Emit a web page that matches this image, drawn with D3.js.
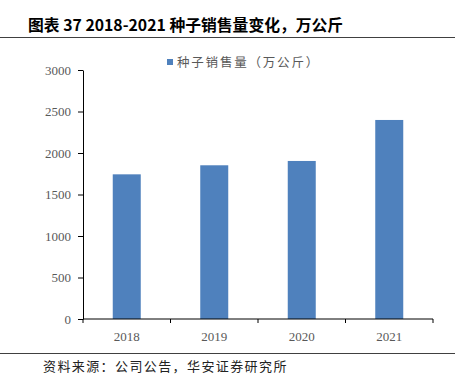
<!DOCTYPE html>
<html>
<head>
<meta charset="utf-8">
<script src="https://cdn.jsdelivr.net/npm/d3@7"></script>
<style>
body{margin:0;background:#fff;}
</style>
</head>
<body>
<div id="chart"></div>
<script>
// data
var years = ["2018","2019","2020","2021"]
var sales = [1743, 1852, 1904, 2398]
var yTicks = [0,500,1000,1500,2000,2500,3000]
var seriesName = "种子销售量（万公斤）"
var title = "图表 37 2018-2021 种子销售量变化，万公斤"
var source = "资料来源：公司公告，华安证券研究所"

var W = 461, H = 383
var margin = {top: 70, right: 28, bottom: 64, left: 83}
var svg = d3.select("#chart").append("svg")
    .attr("width", W).attr("height", H)

// title + rules
svg.append("text").attr("x", 28).attr("y", 31)
    .style("font-family", "'Noto Sans CJK SC', sans-serif")
    .style("font-weight", "bold").style("font-size", "15.8px")
    .attr("fill", "#000").text(title)
svg.append("line").attr("x1", 0).attr("x2", 455).attr("y1", 37.5).attr("y2", 37.5)
    .attr("stroke", "#404040").attr("stroke-width", 1)
svg.append("line").attr("x1", 0).attr("x2", 455).attr("y1", 353.5).attr("y2", 353.5)
    .attr("stroke", "#404040").attr("stroke-width", 1)
svg.append("text").attr("x", 43).attr("y", 371)
    .style("font-family", "'Noto Sans CJK SC', sans-serif")
    .style("font-size", "13px").style("letter-spacing", "1.4px")
    .attr("fill", "#222").text(source)

var x = d3.scaleBand().domain(years).range([margin.left, W - margin.right]).paddingInner(0.68).paddingOuter(0.34)
var y = d3.scaleLinear().domain([0, 3000]).range([H - margin.bottom, margin.top])

var g = svg.append("g")

g.selectAll("rect.bar").data(sales).enter().append("rect")
    .attr("class", "bar")
    .attr("x", function(d, i){ return x(years[i]) })
    .attr("width", x.bandwidth())
    .attr("y", function(d){ return y(d) })
    .attr("height", function(d){ return y(0) - y(d) })
    .attr("fill", "#4f81bd")

// y axis
var yAxis = g.append("g").attr("transform", "translate(" + margin.left + ",0)")
    .call(d3.axisLeft(y).tickValues(yTicks).tickFormat(d3.format("d")).tickSize(5).tickPadding(7).tickSizeOuter(0))
yAxis.select(".domain").attr("stroke", "#000")
yAxis.selectAll(".tick line").attr("stroke", "#000")
yAxis.selectAll("text").style("font-family", "'Liberation Serif', serif")
    .style("font-size", "13px").attr("fill", "#595959")

// x axis, ticks on band edges
var xAxis = g.append("g").attr("transform", "translate(0," + y(0) + ")")
xAxis.append("line").attr("x1", margin.left).attr("x2", W - margin.right)
    .attr("stroke", "#000")
var edges = d3.range(years.length + 1).map(function(i){ return margin.left + i * x.step() })
xAxis.selectAll("line.edge").data(edges).enter().append("line")
    .attr("class", "edge")
    .attr("x1", function(d){ return d }).attr("x2", function(d){ return d })
    .attr("y1", 0).attr("y2", 4).attr("stroke", "#000")
xAxis.selectAll("text").data(years).enter().append("text")
    .attr("x", function(d){ return x(d) + x.bandwidth() / 2 })
    .attr("y", 22).attr("text-anchor", "middle")
    .style("font-family", "'Liberation Serif', serif").style("font-size", "13px")
    .attr("fill", "#595959").text(function(d){ return d })

// legend
svg.append("rect").attr("x", 167).attr("y", 59).attr("width", 6).attr("height", 6).attr("fill", "#4f81bd")
svg.append("text").attr("x", 177).attr("y", 67)
    .style("font-family", "'Noto Sans CJK SC', sans-serif").style("font-size", "12.5px")
    .style("letter-spacing", "1.8px")
    .attr("fill", "#595959").text(seriesName)
</script>
</body>
</html>
